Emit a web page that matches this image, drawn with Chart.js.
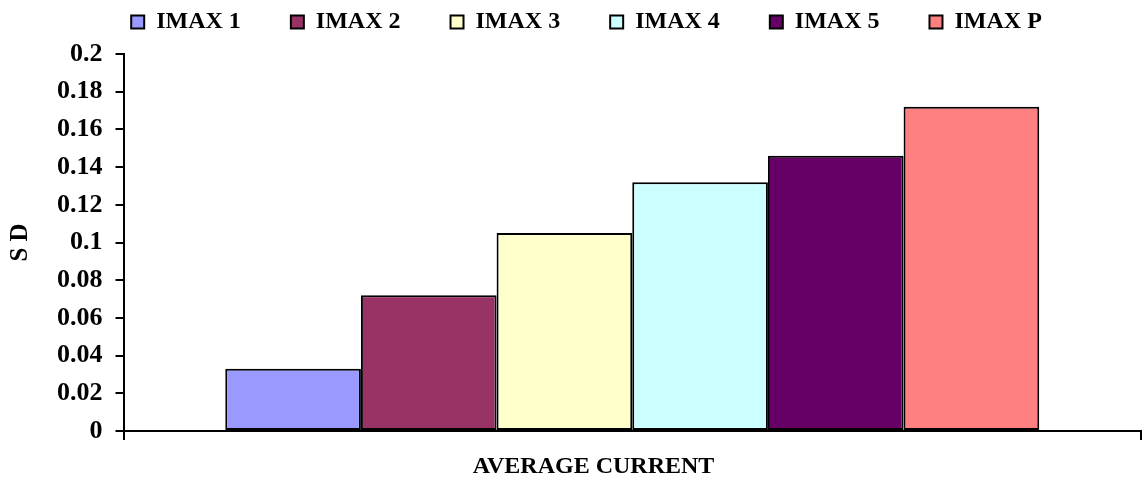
<!DOCTYPE html>
<html>
<head>
<meta charset="utf-8">
<script src="https://cdn.jsdelivr.net/npm/chart.js@4/dist/chart.umd.min.js"></script>
<style>
  html, body { margin: 0; padding: 0; background: #fff; }
  #wrap { width: 1144px; height: 482px; }
</style>
</head>
<body>
<div id="wrap"><canvas id="sd-chart"></canvas></div>
<script>
const categories = ['AVERAGE CURRENT']
const seriesNames = ['IMAX 1', 'IMAX 2', 'IMAX 3', 'IMAX 4', 'IMAX 5', 'IMAX P']
const seriesValues = [0.033, 0.072, 0.105, 0.132, 0.146, 0.172]
const seriesColors = ['#9999FF', '#993366', '#FFFFCC', '#CCFFFF', '#660066', '#FF8080']
const yTicks = [0, 0.02, 0.04, 0.06, 0.08, 0.1, 0.12, 0.14, 0.16, 0.18, 0.2]
const xTitle = 'AVERAGE CURRENT'
const yTitle = 'S D'

const serif = '"Liberation Serif", "Times New Roman", serif'

// x axis title sits a bit left of the plot centre, so draw it by hand
const xTitlePlugin = {
    id: 'xTitle',
    afterDraw(chart) {
        const ctx = chart.ctx
        const area = chart.chartArea
        ctx.save()
        ctx.font = `bold 24px ${serif}`
        ctx.fillStyle = '#000'
        ctx.textAlign = 'center'
        ctx.textBaseline = 'middle'
        ctx.fillText(xTitle, area.left + (area.right - area.left) * 0.462, 467)
        ctx.restore()
    }
}

// nudge the legend row a little to the right
const legendShift = {
    id: 'legendShift',
    afterLayout(chart) {
        chart.legend.left += 13
        chart.legend.right += 13
    }
}

const ctx = document.getElementById('sd-chart').getContext('2d')

new Chart(ctx, {
    type: 'bar',
    data: {
        labels: categories,
        datasets: seriesNames.map((name, i) => ({
            label: name,
            data: [seriesValues[i]],
            backgroundColor: seriesColors[i],
            borderColor: '#000',
            borderWidth: 2,
            borderSkipped: false,
            categoryPercentage: 0.8,
            barPercentage: 1
        }))
    },
    options: {
        responsive: true,
        maintainAspectRatio: false,
        animation: false,
        layout: { padding: { left: 6, right: 3, top: -40, bottom: 42 } },
        plugins: {
            legend: {
                position: 'top',
                weight: 3000,
                labels: {
                    boxWidth: 13,
                    boxHeight: 13,
                    padding: 50,
                    color: '#000',
                    font: { family: serif, size: 24, weight: 'bold' }
                }
            },
            // empty spacer between legend and plot
            title: {
                display: true,
                text: '',
                weight: 500,
                font: { size: 1, lineHeight: 1 },
                padding: { top: 0, bottom: 9 }
            },
            tooltip: { enabled: false }
        },
        scales: {
            x: {
                grid: {
                    drawOnChartArea: false,
                    drawTicks: true,
                    tickLength: 9,
                    color: '#000',
                    lineWidth: 2
                },
                border: { color: '#000', width: 2 },
                ticks: { display: false }
            },
            y: {
                min: 0,
                max: 0.2,
                afterBuildTicks: axis => {
                    axis.ticks = yTicks.map(v => ({ value: v }))
                },
                grid: {
                    drawOnChartArea: false,
                    tickLength: 8,
                    color: '#000',
                    lineWidth: 2
                },
                border: { color: '#000', width: 2 },
                ticks: {
                    color: '#000',
                    padding: 13,
                    font: { family: serif, size: 26, weight: 'bold' },
                    callback: value => String(+value.toFixed(2))
                },
                title: {
                    display: true,
                    text: yTitle,
                    color: '#000',
                    padding: { top: 0, bottom: 8 },
                    font: { family: serif, size: 25, weight: 'bold' }
                }
            }
        }
    },
    plugins: [xTitlePlugin, legendShift]
})
</script>
</body>
</html>
